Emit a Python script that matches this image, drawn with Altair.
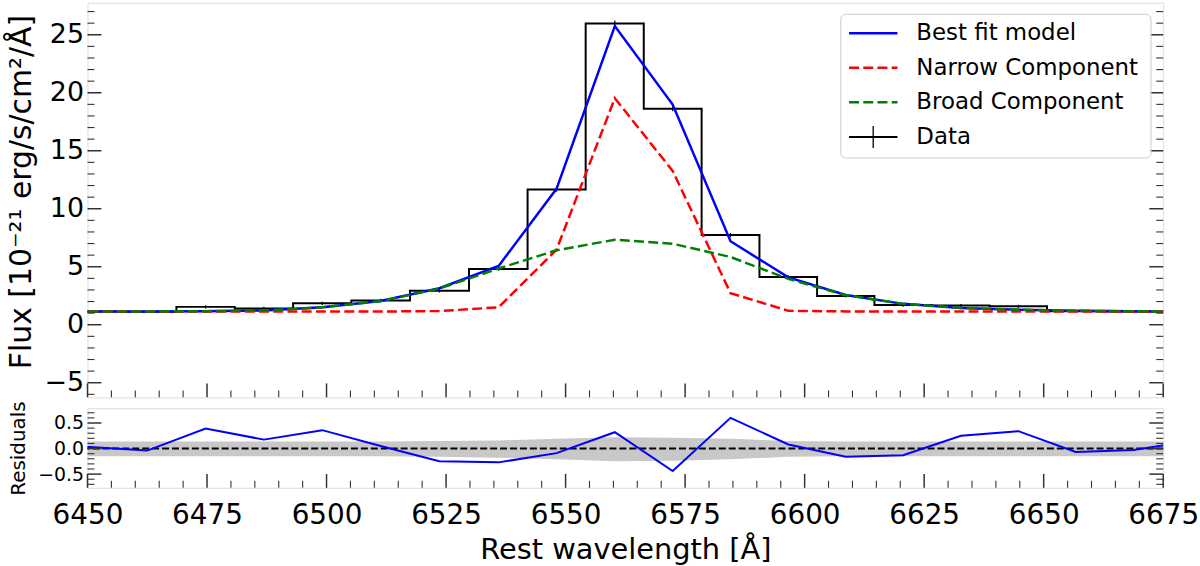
import altair as alt
import pandas as pd

# ---------------- data ----------------
wavelength = [6438.3, 6450.4, 6462.5, 6474.7, 6486.9, 6499.1, 6511.3, 6523.6, 6536.0, 6548.1,
              6560.3, 6572.4, 6584.5, 6596.6, 6608.6, 6620.6, 6632.7, 6644.7, 6656.7, 6668.8, 6680.9]
data_flux = [1.13, 1.15, 1.11, 1.54, 1.40, 1.85, 2.09, 2.94, 4.81, 11.66,
             25.98, 18.62, 7.73, 4.12, 2.48, 1.70, 1.65, 1.59, 1.16, 1.13, 1.15]
data_err = [None, None, None, 0.14, 0.14, 0.14, 0.14, 0.15, 0.16, 0.19,
            0.24, 0.22, 0.19, 0.15, 0.14, 0.14, 0.14, 0.14, None, None, None]
model_flux = [1.14, 1.14, 1.15, 1.17, 1.23, 1.50, 2.05, 3.15, 5.07, 11.72,
              25.75, 18.98, 7.20, 4.08, 2.57, 1.80, 1.45, 1.30, 1.21, 1.16, 1.14]
narrow_flux = [1.14, 1.14, 1.14, 1.14, 1.14, 1.14, 1.14, 1.18, 1.50, 6.47,
               19.53, 13.26, 2.72, 1.20, 1.15, 1.14, 1.14, 1.14, 1.14, 1.14, 1.14]
broad_flux = [1.14, 1.14, 1.15, 1.17, 1.23, 1.50, 2.03, 3.12, 4.85, 6.42,
              7.33, 6.98, 5.84, 3.95, 2.55, 1.80, 1.45, 1.30, 1.21, 1.16, 1.14]
residual = [0.05, 0.03, -0.04, 0.39, 0.175, 0.36, 0.05, -0.25, -0.27, -0.09,
            0.32, -0.44, 0.60, 0.08, -0.16, -0.13, 0.25, 0.34, -0.065, -0.03, 0.15]
band_hi = [0.14, 0.14, 0.14, 0.14, 0.14, 0.14, 0.14, 0.15, 0.16, 0.19,
           0.22, 0.21, 0.19, 0.15, 0.14, 0.14, 0.14, 0.14, 0.14, 0.14, 0.14]
band_lo = [-0.15, -0.15, -0.15, -0.15, -0.15, -0.15, -0.15, -0.16, -0.18, -0.21,
           -0.25, -0.24, -0.21, -0.16, -0.15, -0.15, -0.15, -0.15, -0.15, -0.15, -0.15]

series_names = ["Best fit model", "Narrow Component", "Broad Component", "Data"]
series_colors = ["#0000ff", "#ff0000", "#008000", "#000000"]

x_ticks_major = list(range(6450, 6676, 25))
x_ticks_minor = [v for v in range(6450, 6676, 5) if v % 25 != 0]
y_top_major = [-5, 0, 5, 10, 15, 20, 25]
y_top_minor = [v for v in range(-6, 28) if v % 5 != 0]
y_res_major = [-0.5, 0.0, 0.5]
y_res_minor = [-0.7, -0.6, -0.4, -0.3, -0.2, -0.1, 0.1, 0.2, 0.3, 0.4, 0.6, 0.7]

# ---------------- styling ----------------
FONT = "DejaVu Sans"
FRAME = "#333333"
W, H_TOP, H_RES = 1082, 397, 80
MAJ, MIN = 14, 7

df = pd.DataFrame({
    "wl": wavelength, "data": data_flux, "err": data_err, "model": model_flux,
    "narrow": narrow_flux, "broad": broad_flux, "res": residual,
    "bhi": band_hi, "blo": band_lo,
})
df_err = df.dropna(subset=["err"]).copy()
df_err["lo"] = df_err["data"] - df_err["err"]
df_err["hi"] = df_err["data"] + df_err["err"]

xs = alt.Scale(domain=[6450, 6675], nice=False, zero=False)
ys_top = alt.Scale(domain=[-6.26, 27.77], nice=False, zero=False)
ys_res = alt.Scale(domain=[-0.768, 0.788], nice=False, zero=False)

common_axis = dict(ticks=False, tickSize=0, domain=False, grid=False, labelFont=FONT,
                   titleFont=FONT, titleFontWeight="normal", labelColor="black",
                   titleColor="black", labelFlush=False, labelOverlap=False)

y_axis_top = alt.Axis(values=y_top_major, format="d", title="Flux [10⁻²¹ erg/s/cm²/Å]",
                      labelFontSize=27, labelPadding=4, titleFontSize=30, titlePadding=8,
                      titleY=190, **common_axis)
y_axis_res = alt.Axis(values=y_res_major, format=".1f", title="Residuals",
                      labelFontSize=19, labelPadding=4, titleFontSize=20, titlePadding=9,
                      **common_axis)
x_axis_res = alt.Axis(values=x_ticks_major, format="d", title="Rest wavelength [Å]",
                      labelFontSize=28, labelPadding=14, titleFontSize=29, titlePadding=6,
                      **common_axis)


def XT(f):
    return alt.X(f, type="quantitative", scale=xs, axis=None)


def YT(f):
    return alt.Y(f, type="quantitative", scale=ys_top, axis=y_axis_top)


def XR(f):
    return alt.X(f, type="quantitative", scale=xs, axis=x_axis_res)


def YR(f):
    return alt.Y(f, type="quantitative", scale=ys_res, axis=y_axis_res)


def x_tick_layer(values, length, width, h, xenc):
    return alt.Chart(pd.DataFrame({"v": values})).mark_rule(color=FRAME, strokeWidth=width).encode(
        x=xenc("v"), y=alt.value(h), y2=alt.value(h - length))


def y_tick_layers(values, length, width, yenc):
    d = pd.DataFrame({"v": values})
    left = alt.Chart(d).mark_rule(color=FRAME, strokeWidth=width).encode(
        y=yenc("v"), x=alt.value(0), x2=alt.value(length))
    right = alt.Chart(d).mark_rule(color=FRAME, strokeWidth=width).encode(
        y=yenc("v"), x=alt.value(W), x2=alt.value(W - length))
    return [left, right]


# ---------------- top panel ----------------
base = alt.Chart(df)
data_line = base.mark_line(interpolate="step", color="black", strokeWidth=2, clip=True).encode(
    x=XT("wl"), y=YT("data"))
err_bars = alt.Chart(df_err).mark_rule(color="black", strokeWidth=1.2).encode(
    x=XT("wl"), y=YT("lo"), y2="hi")
model_line = base.mark_line(color=series_colors[0], strokeWidth=2.5, clip=True).encode(
    x=XT("wl"), y=YT("model"))
narrow_line = base.mark_line(color=series_colors[1], strokeWidth=2.5, strokeDash=[10, 4.3],
                             clip=True).encode(x=XT("wl"), y=YT("narrow"))
broad_line = base.mark_line(color=series_colors[2], strokeWidth=2.5, strokeDash=[10, 4.3],
                            clip=True).encode(x=XT("wl"), y=YT("broad"))

top_ticks = [
    x_tick_layer(x_ticks_major, MAJ, 1.5, H_TOP, XT),
    x_tick_layer(x_ticks_minor, MIN, 1.1, H_TOP, XT),
] + y_tick_layers(y_top_major, MAJ, 1.5, YT) + y_tick_layers(y_top_minor, MIN, 1.1, YT)

one = pd.DataFrame({"k": [0]})
legend_layers = [
    alt.Chart(one).mark_rect(fill="white", fillOpacity=0.85, stroke="#cccccc", strokeWidth=1,
                             cornerRadius=5).encode(
        x=alt.value(757.7), x2=alt.value(1069.7), y=alt.value(11.7), y2=alt.value(156.3))
]
row0, pitch = 30.7, 34.8
dashes = [None, [10, 4.3], [10, 4.3], None]
for i, (name, col) in enumerate(zip(series_names, series_colors)):
    yy = row0 + pitch * i
    kw = dict(color=col, strokeWidth=2.5 if i < 3 else 2)
    if dashes[i]:
        kw["strokeDash"] = dashes[i]
    legend_layers.append(alt.Chart(one).mark_rule(**kw).encode(
        x=alt.value(766), x2=alt.value(814.7), y=alt.value(yy)))
    legend_layers.append(alt.Chart(one).mark_text(
        align="left", baseline="middle", font=FONT, fontSize=23, color="black").encode(
        x=alt.value(833.7), y=alt.value(yy), text=alt.value(name)))
legend_layers.append(alt.Chart(one).mark_rule(color="black", strokeWidth=1.3).encode(
    x=alt.value(790.3), y=alt.value(row0 + pitch * 3 - 11), y2=alt.value(row0 + pitch * 3 + 11)))

top = alt.layer(data_line, err_bars, model_line, narrow_line, broad_line,
                *top_ticks, *legend_layers).properties(width=W, height=H_TOP)

# ---------------- residual panel ----------------
band = alt.Chart(df).mark_area(color="#c8c8c8", clip=True).encode(
    x=XR("wl"), y=YR("blo"), y2="bhi")
zero = alt.Chart(pd.DataFrame({"z": [0.0]})).mark_rule(
    color="black", strokeWidth=2, strokeDash=[7, 3]).encode(y=YR("z"))
res_line = alt.Chart(df).mark_line(color="#0000ff", strokeWidth=2, clip=True).encode(
    x=XR("wl"), y=YR("res"))
res_ticks = [
    x_tick_layer(x_ticks_major, MAJ, 1.5, H_RES, XR),
    x_tick_layer(x_ticks_minor, MIN, 1.1, H_RES, XR),
] + y_tick_layers(y_res_major, MAJ, 1.5, YR) + y_tick_layers(y_res_minor, MIN, 1.1, YR)

res = alt.layer(band, zero, res_line, *res_ticks).properties(width=W, height=H_RES)

chart = alt.vconcat(top, res, spacing=11, bounds="flush").properties(
    padding={"left": 5, "top": 0, "right": 0, "bottom": 2}
).configure_view(stroke=FRAME, strokeWidth=1.5).configure(background="white")

chart.save("out.html", embed_options={"renderer": "svg", "actions": False})
